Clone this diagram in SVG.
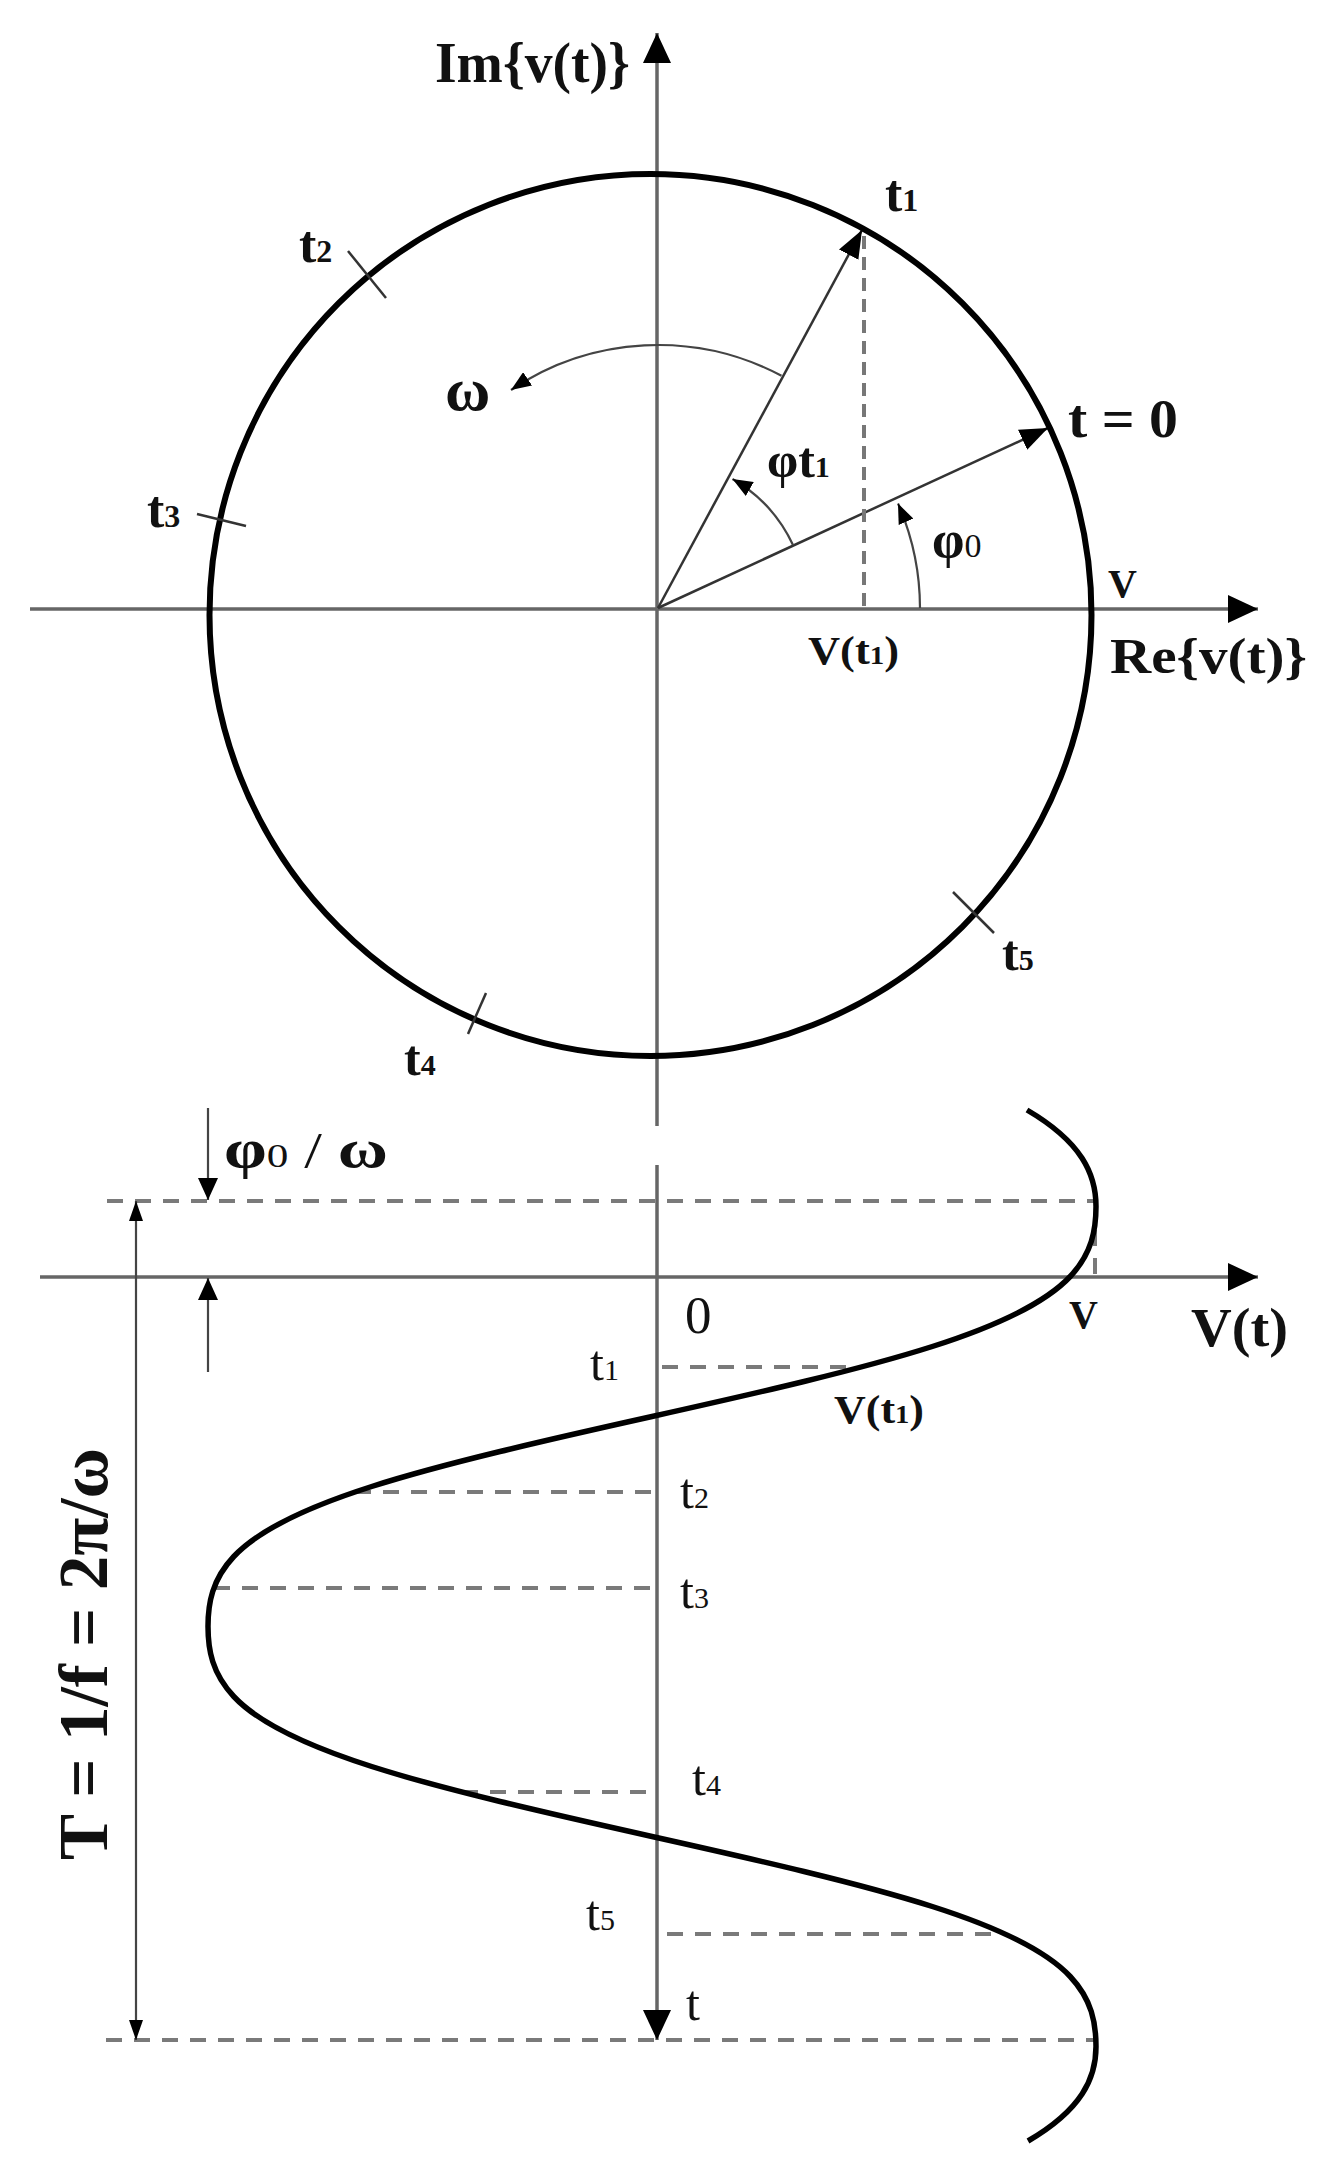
<svg xmlns="http://www.w3.org/2000/svg" width="1332" height="2177" viewBox="0 0 1332 2177">
<style>
.ax{stroke:#666;stroke-width:3.5;fill:none}
.circ{stroke:#000;stroke-width:6;fill:none}
.vec{stroke:#333;stroke-width:2.5;fill:none}
.thin{stroke:#444;stroke-width:2.2;fill:none}
.dash{stroke:#7a7a7a;stroke-width:4;stroke-dasharray:16 12;fill:none}
.vdash{stroke:#777;stroke-width:4;stroke-dasharray:13 8;fill:none}
.curve{stroke:#000;stroke-width:5.5;fill:none}
.tick{stroke:#333;stroke-width:2.5}
text{font-family:"Liberation Serif","Times New Roman",serif;fill:#111}
.b{font-weight:bold}
</style>
<defs>
<marker id="axArrow" markerUnits="userSpaceOnUse" markerWidth="30" markerHeight="28" refX="30" refY="14" orient="auto"><path d="M0,0 L30,14 L0,28 z" fill="#000"/></marker>
<marker id="vecArrow" markerUnits="userSpaceOnUse" markerWidth="28" markerHeight="22" refX="28" refY="11" orient="auto"><path d="M0,0 L28,11 L0,22 z" fill="#000"/></marker>
<marker id="smArrow" markerUnits="userSpaceOnUse" markerWidth="20" markerHeight="16" refX="20" refY="8" orient="auto"><path d="M0,0 L20,8 L0,16 z" fill="#000"/></marker>
<marker id="dimArrow" markerUnits="userSpaceOnUse" markerWidth="22" markerHeight="20" refX="22" refY="10" orient="auto"><path d="M0,0 L22,10 L0,20 z" fill="#000"/></marker>
<marker id="tArrow" markerUnits="userSpaceOnUse" markerWidth="20" markerHeight="14" refX="20" refY="7" orient="auto"><path d="M0,0 L20,7 L0,14 z" fill="#000"/></marker>
</defs>

<g id="connectors">
  <!-- upper axes -->
  <line class="ax" x1="30" y1="609" x2="1258" y2="609" marker-end="url(#axArrow)"/>
  <line class="ax" x1="657" y1="1126" x2="657" y2="33" marker-end="url(#axArrow)"/>
  <!-- phasor vectors -->
  <line class="vec" x1="658" y1="608" x2="1048" y2="428" marker-end="url(#vecArrow)"/>
  <line class="vec" x1="658" y1="608" x2="862" y2="230" marker-end="url(#vecArrow)"/>
  <line class="vdash" x1="864" y1="236" x2="864" y2="608"/>
  <!-- angle arcs -->
  <path class="thin" d="M781.5,375.8 A263,263 0 0 0 511,390" marker-end="url(#smArrow)"/>
  <path class="thin" d="M793,545 A149,149 0 0 0 732.5,479" marker-end="url(#smArrow)"/>
  <path class="thin" d="M920,608 A262,262 0 0 0 898,503.5" marker-end="url(#smArrow)"/>
  <!-- lower axes -->
  <line class="ax" x1="40" y1="1277" x2="1258" y2="1277" marker-end="url(#axArrow)"/>
  <line class="ax" x1="657" y1="1165" x2="657" y2="2040" marker-end="url(#axArrow)"/>
  <!-- dashed projection lines -->
  <line class="dash" x1="107" y1="1201" x2="1096" y2="1201"/>
  <line class="dash" x1="1095" y1="1230" x2="1095" y2="1277"/>
  <line class="dash" x1="662" y1="1367" x2="860" y2="1367"/>
  <line class="dash" x1="355" y1="1492" x2="654" y2="1492"/>
  <line class="dash" x1="214" y1="1588" x2="654" y2="1588"/>
  <line class="dash" x1="462" y1="1792" x2="654" y2="1792"/>
  <line class="dash" x1="667" y1="1934" x2="1004" y2="1934"/>
  <line class="dash" x1="106" y1="2040" x2="1096" y2="2040"/>
  <!-- dimension arrows -->
  <line class="thin" x1="208" y1="1108" x2="208" y2="1200" marker-end="url(#dimArrow)"/>
  <line class="thin" x1="208" y1="1372" x2="208" y2="1278" marker-end="url(#dimArrow)"/>
  <line class="thin" x1="136" y1="1620" x2="136" y2="1201" marker-end="url(#tArrow)"/>
  <line class="thin" x1="136" y1="1620" x2="136" y2="2040" marker-end="url(#tArrow)"/>
</g>

<g id="circle">
  <circle class="circ" cx="650.5" cy="615" r="441"/>
  <line class="tick" x1="348" y1="251" x2="386" y2="298"/>
  <line class="tick" x1="197" y1="514" x2="246" y2="526"/>
  <line class="tick" x1="486" y1="993" x2="468" y2="1034"/>
  <line class="tick" x1="953" y1="892" x2="994" y2="933"/>
</g>

<g id="sine">
  <path class="curve" d="M1027,1110 C1082,1142.2 1096,1174.3 1096,1206.5 C1096,1229.8 1092,1253.2 1070.2,1276.5 C1048.4,1299.8 1005.3,1323.2 932.3,1346.5 C859.3,1369.8 756.6,1393.2 652,1416.5 C547.4,1439.8 444.7,1463.2 371.7,1486.5 C298.7,1509.8 255.6,1533.2 233.8,1556.5 C212,1579.8 208,1603.2 208,1626.5 C208,1649.8 212,1673.2 233.8,1696.5 C255.6,1719.8 298.7,1743.2 371.7,1766.5 C444.7,1789.8 547.4,1813.2 652,1836.5 C756.6,1859.8 859.3,1883.2 932.3,1906.5 C1005.3,1929.8 1048.4,1953.2 1070.2,1976.5 C1092,1999.8 1096,2023.2 1096,2046.5 C1096,2078 1082,2109.5 1028,2141"/>
</g>

<g id="upper-labels">
  <text id="lbl-im" class="b" x="435" y="82" font-size="56" textLength="195" lengthAdjust="spacingAndGlyphs">Im{v(t)}</text>
  <text id="lbl-re" class="b" x="1110" y="673" font-size="50" textLength="197" lengthAdjust="spacingAndGlyphs">Re{v(t)}</text>
  <text id="lbl-t1u" class="b" x="885" y="211" font-size="52">t<tspan font-size="32">1</tspan></text>
  <text id="lbl-t2u" class="b" x="299" y="262" font-size="52">t<tspan font-size="32">2</tspan></text>
  <text id="lbl-t3u" class="b" x="147" y="527" font-size="52">t<tspan font-size="32">3</tspan></text>
  <text id="lbl-t4u" class="b" x="404" y="1075" font-size="50">t<tspan font-size="30">4</tspan></text>
  <text id="lbl-t5u" class="b" x="1002" y="970" font-size="50">t<tspan font-size="30">5</tspan></text>
  <text id="lbl-t0" class="b" x="1068" y="437" font-size="54" textLength="110" lengthAdjust="spacingAndGlyphs">t = 0</text>
  <text id="lbl-omega" class="b" x="445" y="410" font-size="62">ω</text>
  <text id="lbl-phit1" class="b" x="767" y="477" font-size="50">φt<tspan font-size="30">1</tspan></text>
  <text id="lbl-phi0" x="932" y="557"><tspan class="b" font-size="52">φ</tspan><tspan font-size="34">0</tspan></text>
  <text id="lbl-Vu" class="b" x="1108" y="597" font-size="40">V</text>
  <text id="lbl-Vt1u" class="b" x="808" y="664" font-size="40" textLength="91" lengthAdjust="spacingAndGlyphs">V(t<tspan font-size="26">1</tspan>)</text>
</g>

<g id="lower-labels">
  <text id="lbl-phi0w" x="224" y="1167" textLength="164" lengthAdjust="spacingAndGlyphs"><tspan class="b" font-size="54">φ</tspan><tspan font-size="34">0</tspan><tspan font-size="50"> / </tspan><tspan class="b" font-size="54">ω</tspan></text>
  <text id="lbl-zero" x="685" y="1333" font-size="53">0</text>
  <text id="lbl-Vl" class="b" x="1069" y="1328" font-size="40">V</text>
  <text id="lbl-Vt" class="b" x="1191" y="1346" font-size="54" textLength="97" lengthAdjust="spacingAndGlyphs">V(t)</text>
  <text id="lbl-t1l" x="590" y="1380" font-size="50">t<tspan font-size="30">1</tspan></text>
  <text id="lbl-Vt1l" class="b" x="834" y="1423" font-size="40" textLength="90" lengthAdjust="spacingAndGlyphs">V(t<tspan font-size="26">1</tspan>)</text>
  <text id="lbl-t2l" x="680" y="1508" font-size="50">t<tspan font-size="30">2</tspan></text>
  <text id="lbl-t3l" x="680" y="1608" font-size="50">t<tspan font-size="30">3</tspan></text>
  <text id="lbl-t4l" x="692" y="1795" font-size="50">t<tspan font-size="30">4</tspan></text>
  <text id="lbl-t5l" x="586" y="1930" font-size="50">t<tspan font-size="30">5</tspan></text>
  <text id="lbl-t" x="686" y="2020" font-size="50">t</text>
  <text id="lbl-T" class="b" transform="translate(107,1654) rotate(-90)" text-anchor="middle" font-size="70" textLength="412" lengthAdjust="spacingAndGlyphs">T = 1/f = 2π/ω</text>
</g>
</svg>
